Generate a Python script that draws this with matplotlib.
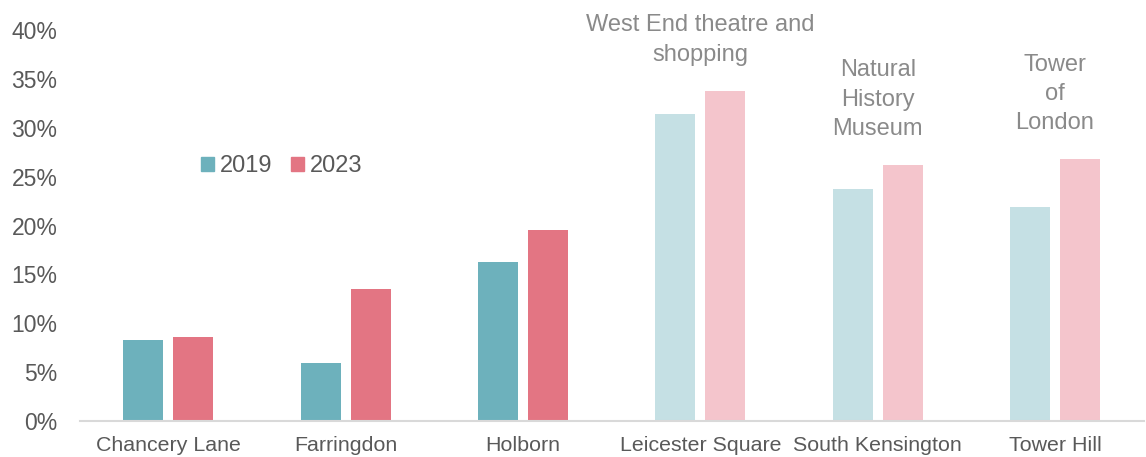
import numpy as np
import matplotlib
matplotlib.use('Agg')
import matplotlib.pyplot as plt
from matplotlib.ticker import PercentFormatter
from matplotlib.patches import Patch

plt.rcParams['font.family'] = ['Liberation Sans', 'DejaVu Sans']

# data
stations = ['Chancery Lane', 'Farringdon', 'Holborn', 'Leicester Square',
            'South Kensington', 'Tower Hill']
share_2019 = [8.3, 5.9, 16.3, 31.4, 23.7, 21.9]
share_2023 = [8.55, 13.5, 19.6, 33.8, 26.2, 26.8]
highlighted = [True, True, True, False, False, False]

notes = ['West End theatre and\nshopping', 'Natural\nHistory\nMuseum', 'Tower\nof\nLondon']
note_station = [3, 4, 5]
note_y = [39.0, 32.9, 33.5]

# colours
teal, pink = '#6DB1BC', '#E37583'
teal_lt, pink_lt = '#C5E0E4', '#F4C5CC'
text_col = '#595959'
note_col = '#8A8A8A'

fig = plt.figure(figsize=(11.46, 4.57), dpi=100)
ax = fig.add_axes([0.0695, 0.0788, 0.9285, 0.855])

x = np.arange(len(stations))
w = 0.225
off = 0.141
c19 = [teal if h else teal_lt for h in highlighted]
c23 = [pink if h else pink_lt for h in highlighted]
ax.bar(x - off, share_2019, width=w, color=c19)
ax.bar(x + off, share_2023, width=w, color=c23)

for txt, i, y in zip(notes, note_station, note_y):
    ax.text(i, y, txt, ha='center', va='center', fontsize=17, color=note_col,
            linespacing=1.42)

ax.set_xlim(-0.5, len(stations) - 0.5)
ax.set_ylim(0, 40)
ax.set_yticks(np.arange(0, 41, 5))
ax.yaxis.set_major_formatter(PercentFormatter(decimals=0))
ax.set_xticks(x)
ax.set_xticklabels(stations)
ax.tick_params(axis='both', length=0, labelcolor=text_col)
ax.tick_params(axis='x', labelsize=15.4, pad=11)
ax.tick_params(axis='y', labelsize=16.5, pad=16)
for s in ['top', 'right', 'left']:
    ax.spines[s].set_visible(False)
ax.spines['bottom'].set_color('#D9D9D9')
ax.spines['bottom'].set_linewidth(1.5)

handles = [Patch(color=teal, label='2019'), Patch(color=pink, label='2023')]
leg = ax.legend(handles=handles, loc='center', bbox_to_anchor=(0.19, 0.652),
                ncol=2, frameon=False, fontsize=17, handlelength=0.55,
                handleheight=0.55, handletextpad=0.25, columnspacing=0.8)
for t in leg.get_texts():
    t.set_color(text_col)

fig.savefig('out.png', dpi=100)
